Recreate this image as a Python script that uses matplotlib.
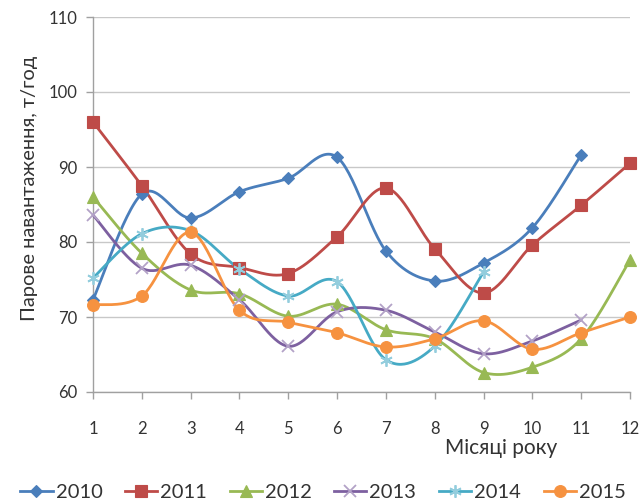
import numpy as np
import matplotlib
matplotlib.use("Agg")
import matplotlib.pyplot as plt
from matplotlib.lines import Line2D

plt.rcParams['font.family'] = ['Lato', 'DejaVu Sans']

months = list(range(1, 13))
years = ["2010", "2011", "2012", "2013", "2014", "2015"]

load_2010 = [72.3, 86.4, 83.2, 86.7, 88.5, 91.3, 78.8, 74.8, 77.2, 81.9, 91.6]
load_2011 = [96.0, 87.5, 78.4, 76.6, 75.8, 80.7, 87.2, 79.1, 73.2, 79.6, 84.9, 90.5]
load_2012 = [86.0, 78.5, 73.6, 73.1, 70.1, 71.7, 68.3, 67.1, 62.6, 63.3, 67.1, 77.6]
load_2013 = [83.6, 76.5, 76.9, 72.3, 66.1, 70.7, 70.9, 68.0, 65.1, 66.8, 69.6]
load_2014 = [75.2, 81.1, 81.5, 76.4, 72.8, 74.7, 64.3, 66.1, 76.0]
load_2015 = [71.6, 72.8, 81.3, 70.9, 69.3, 67.9, 66.0, 67.1, 69.5, 65.7, 67.9, 70.0]

series = [load_2010, load_2011, load_2012, load_2013, load_2014, load_2015]

line_colors = ["#4A7EBB", "#BE4B48", "#98B954", "#7D60A0", "#46AAC5", "#F69240"]
marker_face = ["#4A7EBB", "#BE4B48", "#98B954", "#B3A2C7", "#93CDDD", "#F69240"]
markers = ["D", "s", "^", "x", (6, 2, 0), "o"]
marker_sizes = [6.5, 8.5, 8.5, 8, 9, 8.5]


def smooth(xs, ys, n=30):
    """Bezier smoothing through every point (control points from neighbours / 6)."""
    xs = np.asarray(xs, float)
    ys = np.asarray(ys, float)
    pts = np.column_stack([xs, ys])
    out = [pts[0]]
    m = len(pts)
    for i in range(m - 1):
        p0 = pts[max(i - 1, 0)]
        p1 = pts[i]
        p2 = pts[i + 1]
        p3 = pts[min(i + 2, m - 1)]
        c1 = p1 + (p2 - p0) / 6.0
        c2 = p2 - (p3 - p1) / 6.0
        t = np.linspace(0, 1, n)[1:, None]
        seg = ((1 - t) ** 3) * p1 + 3 * ((1 - t) ** 2) * t * c1 \
            + 3 * (1 - t) * t ** 2 * c2 + t ** 3 * p2
        out.extend(seg)
    out = np.array(out)
    return out[:, 0], out[:, 1]


fig = plt.figure(figsize=(6.42, 5.01), dpi=100)
ax = fig.add_axes([93 / 642, 1 - 392 / 501, (630 - 93) / 642, (392 - 17) / 501])

handles = []
for vals, lc, mf, mk, ms in zip(series, line_colors, marker_face, markers, marker_sizes):
    x = months[:len(vals)]
    sx, sy = smooth(x, vals)
    mew = 1.3 if (isinstance(mk, tuple) or mk == "x") else 0.8
    ax.plot(sx, sy, color=lc, lw=2.0, solid_capstyle='round', clip_on=False, zorder=3)
    ax.plot(x, vals, linestyle='none', marker=mk, markersize=ms,
            markerfacecolor=mf, markeredgecolor=mf, markeredgewidth=mew,
            clip_on=False, zorder=4)
    handles.append(Line2D([0], [0], color=lc, lw=2.0, marker=mk, markersize=ms,
                          markerfacecolor=mf, markeredgecolor=mf, markeredgewidth=mew))

ax.set_xlim(1, 12)
ax.set_ylim(60, 110)
ax.set_xticks(months)
ax.set_yticks([60, 70, 80, 90, 100, 110])
ax.yaxis.grid(True, color="#C8C8C8", lw=1.0)
ax.set_axisbelow(True)
for s in ("top", "right"):
    ax.spines[s].set_visible(False)
for s in ("left", "bottom"):
    ax.spines[s].set_color("#A0A0A0")
    ax.spines[s].set_linewidth(1.0)
ax.tick_params(axis='both', direction='out', length=5, width=1, color="#A0A0A0",
               labelsize=12, labelcolor="#333333")
ax.tick_params(axis='x', pad=16)
ax.tick_params(axis='y', pad=6)

fig.text(30 / 642, 1 - 188 / 501, "Парове навантаження, т/год", rotation=90,
         ha='center', va='center', fontsize=14.5, color="#333333")
fig.text(501 / 642, 1 - 448 / 501, "Місяці року", ha='center', va='center',
         fontsize=15, color="#333333")

fig.legend(handles, years, loc='center', bbox_to_anchor=(323 / 642, 1 - 492 / 501),
           ncol=6, frameon=False, fontsize=14.5, handlelength=1.6, handletextpad=0.15,
           columnspacing=1.12, borderaxespad=0, borderpad=0, labelcolor="#333333")

fig.savefig("out.png", dpi=100)
